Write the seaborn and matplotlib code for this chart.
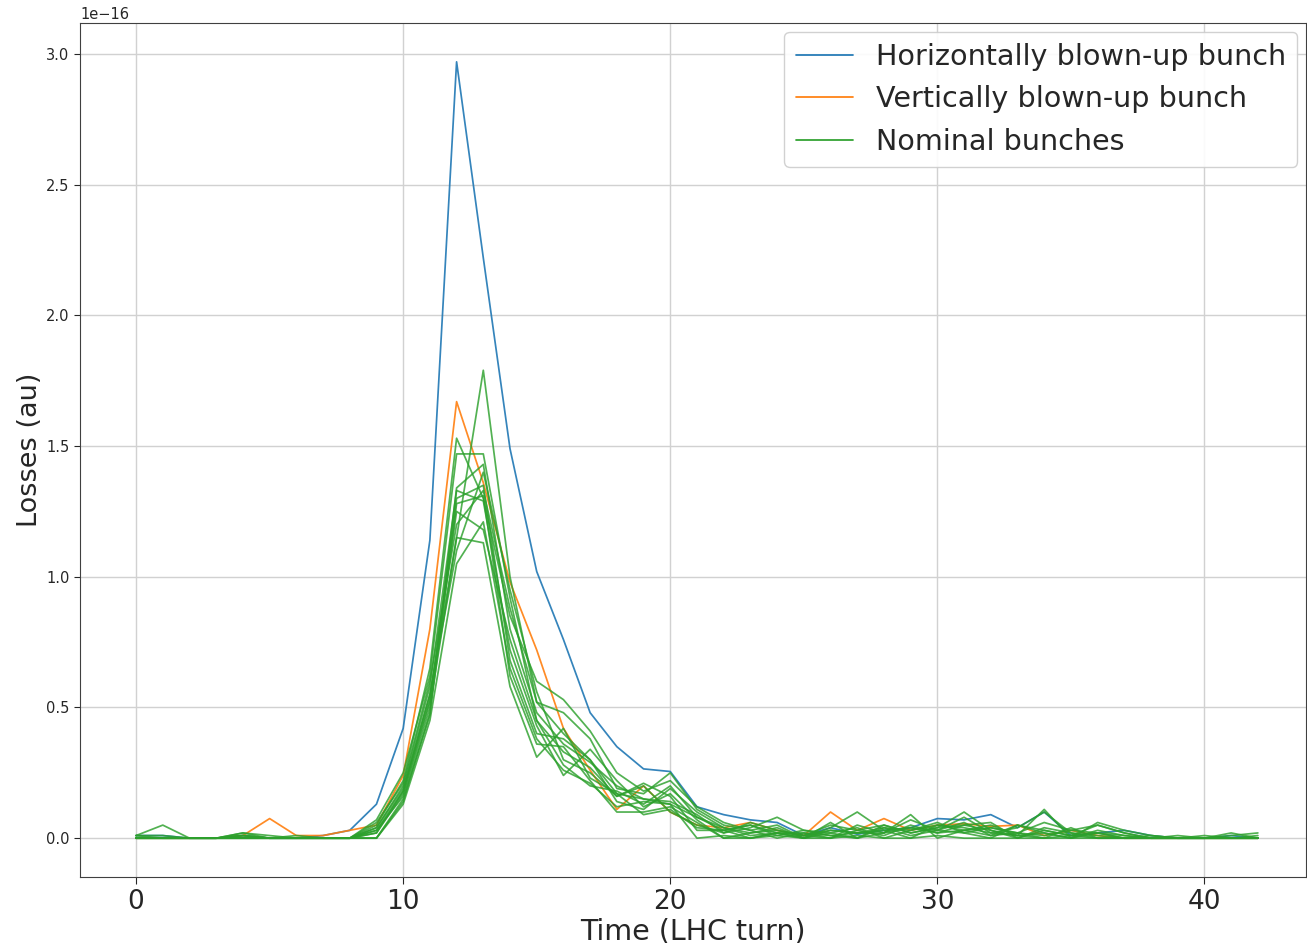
import numpy as np
import pandas as pd
import matplotlib
matplotlib.use("Agg")
import matplotlib.pyplot as plt
import seaborn as sns

turns = list(range(43))

blue_h = [0.01,0.01,0.0,0.0,0.01,0.0,0.0,0.01,0.03,0.13,
          0.42,1.14,2.97,2.22,1.49,1.02,0.76,0.48,0.35,0.265,0.255,0.12,
          0.09,0.07,0.06,0.01,0.04,0.015,0.03,0.04,0.075,0.07,
          0.09,0.04,0.10,0.01,0.02,0.03,0.01,0.0,0.0,0.01,0.0]

orange_v = [0.0,0.0,0.0,0.0,0.01,0.075,0.01,0.01,0.03,0.05,
            0.24,0.80,1.67,1.36,0.98,0.72,0.42,0.26,0.11,0.20,0.10,0.05,
            0.04,0.06,0.03,0.01,0.10,0.03,0.075,0.03,0.05,0.055,
            0.045,0.05,0.01,0.03,0.01,0.0,0.0,0.0,0.0,0.0,0.0]

g1 = [0.0,0.0,0.0,0.0,0.01,0.0,0.0,0.0,0.0,0.03,
      0.18,0.55,1.15,1.79,1.00,0.52,0.40,0.30,0.17,0.15,0.13,0.08,
      0.03,0.05,0.02,0.0,0.03,0.02,0.04,0.03,0.05,0.04,
      0.02,0.01,0.0,0.01,0.0,0.0,0.0,0.0,0.0,0.0,0.0]
g2 = [0.01,0.05,0.0,0.0,0.02,0.0,0.0,0.0,0.0,0.07,
      0.25,0.62,1.47,1.47,0.92,0.45,0.33,0.27,0.16,0.20,0.10,0.05,
      0.02,0.04,0.08,0.03,0.01,0.0,0.02,0.09,0.0,0.03,
      0.05,0.01,0.11,0.0,0.02,0.0,0.0,0.0,0.01,0.0,0.0]
g3 = [0.0,0.0,0.0,0.0,0.0,0.0,0.0,0.0,0.0,0.05,
      0.22,0.65,1.53,1.30,0.85,0.60,0.53,0.41,0.25,0.18,0.22,0.12,
      0.06,0.03,0.05,0.0,0.04,0.10,0.03,0.04,0.02,0.05,
      0.06,0.0,0.03,0.01,0.05,0.02,0.0,0.0,0.0,0.0,0.0]
g4 = [0.0,0.0,0.0,0.0,0.0,0.0,0.0,0.0,0.0,0.0,
      0.14,0.48,1.34,1.43,0.80,0.48,0.36,0.29,0.20,0.15,0.14,0.09,
      0.02,0.06,0.03,0.01,0.0,0.05,0.02,0.07,0.03,0.08,
      0.02,0.04,0.10,0.02,0.0,0.0,0.01,0.0,0.0,0.02,0.0]
g5 = [0.01,0.01,0.0,0.0,0.01,0.0,0.0,0.0,0.0,0.04,
      0.20,0.58,1.33,1.29,0.72,0.43,0.24,0.34,0.22,0.12,0.17,0.07,
      0.0,0.02,0.04,0.0,0.02,0.04,0.0,0.03,0.06,0.02,
      0.0,0.05,0.02,0.0,0.06,0.03,0.01,0.0,0.0,0.0,0.01]
g6 = [0.0,0.0,0.0,0.0,0.02,0.01,0.0,0.0,0.0,0.02,
      0.17,0.52,1.30,1.35,0.68,0.40,0.38,0.30,0.14,0.11,0.19,0.10,
      0.04,0.01,0.02,0.02,0.0,0.03,0.05,0.02,0.04,0.10,
      0.03,0.0,0.04,0.02,0.01,0.0,0.0,0.0,0.0,0.0,0.0]
g7 = [0.0,0.0,0.0,0.0,0.0,0.0,0.0,0.0,0.0,0.03,
      0.16,0.50,1.15,1.13,0.58,0.31,0.42,0.23,0.17,0.09,0.11,0.04,
      0.03,0.05,0.01,0.03,0.02,0.0,0.04,0.01,0.03,0.06,
      0.01,0.02,0.0,0.04,0.0,0.0,0.0,0.0,0.0,0.0,0.0]
g8 = [0.0,0.0,0.0,0.0,0.0,0.0,0.01,0.0,0.0,0.0,
      0.13,0.45,1.05,1.21,0.65,0.38,0.26,0.21,0.12,0.14,0.13,0.0,
      0.01,0.0,0.02,0.01,0.05,0.03,0.01,0.05,0.02,0.03,
      0.01,0.05,0.03,0.01,0.02,0.0,0.0,0.0,0.0,0.0,0.0]
g9 = [0.0,0.0,0.0,0.0,0.0,0.0,0.0,0.0,0.0,0.06,
      0.21,0.60,1.20,1.33,0.88,0.52,0.48,0.38,0.19,0.17,0.25,0.11,
      0.05,0.03,0.0,0.02,0.01,0.02,0.03,0.0,0.05,0.03,
      0.04,0.02,0.06,0.03,0.05,0.02,0.0,0.0,0.0,0.0,0.0]
g10 = [0.0,0.0,0.0,0.0,0.0,0.0,0.0,0.0,0.0,0.0,
       0.15,0.47,1.28,1.31,0.62,0.36,0.35,0.22,0.10,0.10,0.12,0.06,
       0.0,0.0,0.01,0.0,0.0,0.01,0.0,0.0,0.01,0.0,
       0.0,0.0,0.0,0.0,0.0,0.0,0.0,0.0,0.0,0.0,0.0]
g11 = [0.0,0.0,0.0,0.0,0.01,0.0,0.0,0.0,0.0,0.04,
       0.19,0.55,1.10,1.40,0.95,0.56,0.30,0.25,0.16,0.21,0.16,0.03,
       0.03,0.0,0.02,0.0,0.06,0.0,0.05,0.02,0.04,0.05,
       0.03,0.01,0.02,0.0,0.03,0.01,0.0,0.0,0.0,0.0,0.0]
g12 = [0.01,0.0,0.0,0.0,0.0,0.0,0.0,0.0,0.0,0.02,
       0.18,0.53,1.25,1.18,0.76,0.45,0.28,0.20,0.18,0.13,0.20,0.08,
       0.04,0.02,0.03,0.01,0.03,0.02,0.02,0.04,0.03,0.02,
       0.04,0.02,0.01,0.03,0.02,0.01,0.0,0.01,0.0,0.01,0.02]

nominal = [g1, g2, g3, g4, g5, g6, g7, g8, g9, g10, g11, g12]

labels = ["Horizontally blown-up bunch", "Vertically blown-up bunch", "Nominal bunches"]
x_label = "Time (LHC turn)"
y_label = "Losses (au)"
scale = 1e-16

sns.set_style("ticks", {"axes.grid": True, "grid.color": ".82", "axes.edgecolor": ".25"})

fig = plt.figure(figsize=(13.07, 9.43), dpi=100)
ax = fig.add_axes([0.0612, 0.070, 0.938, 0.9056])

c_blue, c_orange, c_green = "#1f77b4", "#ff7f0e", "#2ca02c"

sns.lineplot(x=turns, y=np.array(blue_h) * scale, color=c_blue, lw=1.25, alpha=0.9,
             label=labels[0], ax=ax)
sns.lineplot(x=turns, y=np.array(orange_v) * scale, color=c_orange, lw=1.25, alpha=0.9,
             label=labels[1], ax=ax)
for i, g in enumerate(nominal):
    sns.lineplot(x=turns, y=np.array(g) * scale, color=c_green, lw=1.25, alpha=0.82,
                 label=labels[2] if i == 0 else None, ax=ax)

ax.set_xlim(-2.1, 43.8)
ax.set_ylim(-0.1485e-16, 3.1185e-16)
ax.set_xticks([0, 10, 20, 30, 40])
ax.set_yticks(np.arange(0, 3.01, 0.5) * scale)
ax.tick_params(axis="x", labelsize=19, length=5)
ax.tick_params(axis="y", labelsize=10.5, length=4)
ax.yaxis.get_offset_text().set_fontsize(10.5)
ax.set_xlabel(x_label, fontsize=20.5, labelpad=2)
ax.set_ylabel(y_label, fontsize=19.5, labelpad=2)
ax.grid(True, color=".82", lw=1.0)

leg = ax.legend(loc="upper right", fontsize=20.6, frameon=True, framealpha=0.9,
                edgecolor=".8", fancybox=True, borderpad=0.4, handlelength=2.0,
                borderaxespad=0.3)
for line in leg.get_lines():
    line.set_alpha(1.0)

fig.savefig("out.png", dpi=100)
